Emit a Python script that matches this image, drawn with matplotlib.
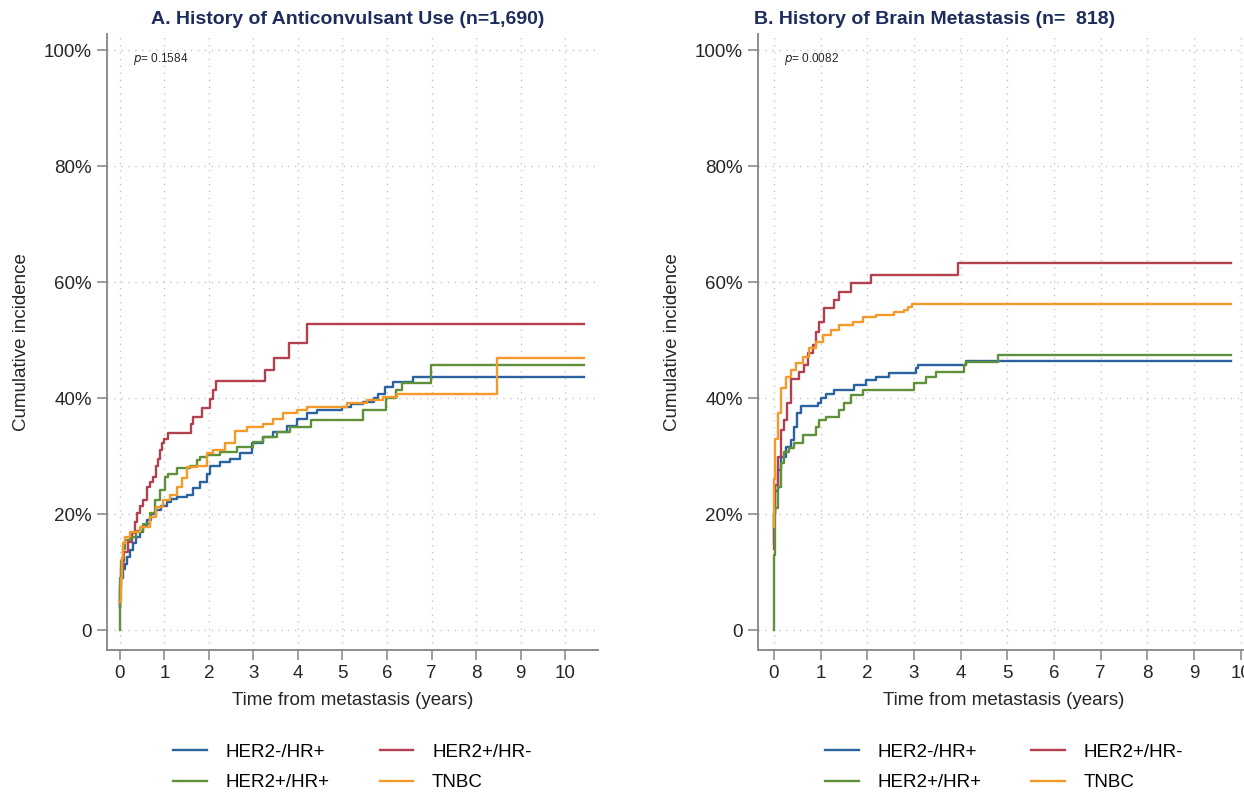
import matplotlib
matplotlib.use("Agg")
import matplotlib.pyplot as plt

plt.rcParams["font.family"] = ["Liberation Sans", "DejaVu Sans"]

groups = ["HER2-/HR+", "HER2+/HR-", "HER2+/HR+", "TNBC"]
colors = ["#2b62a0", "#b3404f", "#5f903a", "#f39a2b"]

# Panel A: anticonvulsant use, time (years) and cumulative incidence (%)
a_blue_t = [0, 0.01, 0.03, 0.06, 0.11, 0.16, 0.22, 0.3, 0.37, 0.45, 0.52, 0.6, 0.7, 0.82,
            0.93, 1.05, 1.15, 1.28, 1.5, 1.65, 1.8, 1.95, 2.02, 2.25, 2.47, 2.7, 2.97, 3.22,
            3.44, 3.75, 3.97, 4.2, 4.42, 5.0, 5.2, 5.47, 5.7, 5.8, 5.96, 6.13, 6.58, 10.43]
a_blue_y = [4, 7, 9, 10.5, 11.5, 12.6, 13.8, 15, 16, 17, 18, 19, 20, 20.7,
            21.4, 22.1, 22.6, 23, 23.4, 24.5, 25.6, 27, 28.4, 29, 29.6, 30.6, 32.2, 33.3,
            34.2, 35.3, 36.5, 37.4, 37.9, 38.5, 39, 39.3, 40, 40.8, 41.9, 42.8, 43.6, 43.6]
a_red_t = [0, 0.01, 0.03, 0.06, 0.1, 0.18, 0.27, 0.34, 0.39, 0.45, 0.52, 0.6, 0.67, 0.75,
           0.82, 0.86, 0.9, 0.94, 1.0, 1.08, 1.6, 1.65, 1.84, 2.02, 2.1, 2.17, 3.26, 3.46,
           3.8, 4.2, 10.43]
a_red_y = [4, 8, 10.5, 12, 13.5, 15.2, 16.7, 18.6, 20.2, 21.4, 22.4, 24.7, 25.5, 26.4,
           28.4, 29.6, 31, 32.2, 33, 34, 35.5, 36.7, 38.3, 39.8, 41.5, 42.9, 44.8, 47,
           49.6, 52.8, 52.8]
a_green_t = [0, 0.01, 0.03, 0.06, 0.11, 0.22, 0.37, 0.52, 0.67, 0.79, 0.9, 1.01, 1.08, 1.28,
             1.57, 1.73, 1.8, 1.95, 2.25, 2.63, 3.0, 3.22, 3.52, 3.82, 4.3, 5.47, 5.98, 6.2,
             6.33, 6.99, 10.43]
a_green_y = [0, 9, 12, 14, 15.5, 16, 17.2, 18.4, 20.2, 22.4, 24.1, 26.4, 27, 27.9,
             28.4, 29.3, 29.8, 30.2, 30.7, 31.6, 32.4, 33.3, 34.1, 35, 36.2, 37.9, 40, 41.4,
             42.6, 45.7, 45.7]
a_orange_t = [0, 0.02, 0.05, 0.07, 0.12, 0.22, 0.45, 0.67, 0.82, 0.97, 1.12, 1.28, 1.39, 1.5,
              1.73, 1.95, 2.1, 2.36, 2.58, 2.85, 3.22, 3.44, 3.67, 3.97, 4.2, 5.1, 5.55, 5.92,
              6.22, 8.47, 10.43]
a_orange_y = [4.8, 9, 12.5, 15, 16, 16.9, 17.8, 19.5, 21.2, 22.4, 23.3, 24.7, 26.2, 28.1,
              28.4, 30.5, 31, 32.2, 34.3, 35, 35.6, 36.5, 37.4, 37.9, 38.5, 39.1, 39.7, 40.2,
              40.7, 46.9, 46.9]

# Panel B: brain metastasis
b_blue_t = [0, 0.01, 0.03, 0.08, 0.15, 0.26, 0.36, 0.43, 0.5, 0.58, 0.94, 1.0, 1.11, 1.28,
            1.71, 1.97, 2.18, 2.46, 3.04, 3.08, 4.11, 9.8]
b_blue_y = [15, 20, 24, 27.6, 29.8, 31.6, 32.8, 35, 37.4, 38.6, 39.1, 40, 40.7, 41.4,
            42.2, 43.1, 43.6, 44.4, 45.3, 45.8, 46.4, 46.4]
b_red_t = [0, 0.01, 0.03, 0.09, 0.15, 0.21, 0.28, 0.36, 0.54, 0.64, 0.73, 0.84, 0.9, 0.96,
           1.07, 1.28, 1.39, 1.65, 2.08, 3.94, 9.8]
b_red_y = [14, 20, 25, 29.8, 34.5, 36.2, 39.1, 43.4, 44.5, 45.7, 47.8, 49.1, 51.4, 53.1,
           55.5, 56.9, 58.3, 59.8, 61.3, 63.4, 63.4]
b_green_t = [0, 0.01, 0.03, 0.08, 0.15, 0.21, 0.32, 0.43, 0.62, 0.9, 0.96, 1.11, 1.39, 1.5,
             1.65, 1.9, 3.0, 3.26, 3.47, 4.07, 4.11, 4.8, 9.8]
b_green_y = [0, 13, 21, 24.7, 28.8, 30.7, 31.4, 32.2, 33.6, 35, 36.2, 36.7, 37.9, 39.1,
             40.5, 41.4, 42.6, 43.6, 44.5, 45.7, 46.2, 47.4, 47.4]
b_orange_t = [0, 0.01, 0.02, 0.08, 0.15, 0.26, 0.36, 0.47, 0.62, 0.75, 0.9, 1.05, 1.22, 1.39,
              1.69, 1.9, 2.18, 2.57, 2.78, 2.87, 2.95, 9.8]
b_orange_y = [17.8, 26, 33, 37.4, 41.7, 43.6, 44.8, 46, 47.1, 48.6, 49.7, 50.9, 51.7, 52.6,
              53.1, 54, 54.3, 54.8, 55.3, 55.7, 56.3, 56.3]

y_ticks = [0, 20, 40, 60, 80, 100]
y_tick_labels = ["0", "20%", "40%", "60%", "80%", "100%"]
x_ticks = list(range(0, 11))

title_color = "#1c2c5c"
axis_color = "#8c8c8c"
text_color = "#262626"
font_size = 13.5


def draw_panel(axis, series, xlim, p_text):
    lines = []
    for (t, y), color in zip(series, colors):
        (line,) = axis.plot(t, y, drawstyle="steps-post", color=color, linewidth=1.7)
        lines.append(line)

    axis.set_xlim(*xlim)
    axis.set_ylim(-3.4, 102.8)
    axis.set_xticks(x_ticks)
    axis.set_yticks(y_ticks)
    axis.set_yticklabels(y_tick_labels)
    axis.grid(True, color="#c4c4c4", linestyle=(0, (1, 4)), linewidth=1.0)
    axis.set_axisbelow(True)

    for side in ["top", "right"]:
        axis.spines[side].set_visible(False)
    for side in ["left", "bottom"]:
        axis.spines[side].set_color(axis_color)
        axis.spines[side].set_linewidth(1.4)
    axis.tick_params(axis="both", direction="out", length=7, width=1.2,
                     color=axis_color, labelcolor=text_color, labelsize=font_size, pad=4)

    axis.set_xlabel("Time from metastasis (years)", fontsize=font_size, color=text_color,
                    labelpad=7)
    axis.set_ylabel("Cumulative incidence", fontsize=font_size, color=text_color,
                    labelpad=10)

    axis.text(0.053, 0.959, "$p$= " + p_text, transform=axis.transAxes, fontsize=8.5,
              color=text_color, ha="left", va="center")

    # legend order: column 1 HER2-/HR+, HER2+/HR+; column 2 HER2+/HR-, TNBC
    order = [0, 2, 1, 3]
    axis.legend([lines[i] for i in order], [groups[i] for i in order], ncol=2,
                loc="upper center", bbox_to_anchor=(0.5, -0.14), frameon=False,
                fontsize=font_size, handlelength=1.8, handletextpad=1.0,
                columnspacing=2.65, labelspacing=0.72, borderaxespad=0.0)


figure = plt.figure(figsize=(12.44, 7.92), dpi=100)
ax_a = figure.add_axes([0.0860, 0.1793, 0.3947, 0.7778])
ax_b = figure.add_axes([0.6093, 0.1793, 0.3955, 0.7778])

draw_panel(ax_a, [(a_blue_t, a_blue_y), (a_red_t, a_red_y), (a_green_t, a_green_y),
                  (a_orange_t, a_orange_y)], (-0.29, 10.74), "0.1584")
draw_panel(ax_b, [(b_blue_t, b_blue_y), (b_red_t, b_red_y), (b_green_t, b_green_y),
                  (b_orange_t, b_orange_y)], (-0.34, 10.2), "0.0082")

figure.text(348 / 1244, 1 - 19 / 792, "A. History of Anticonvulsant Use (n=1,690)",
            ha="center", va="center", fontsize=14, fontweight="bold", color=title_color)
figure.text(935 / 1244, 1 - 19 / 792, "B. History of Brain Metastasis (n=  818)",
            ha="center", va="center", fontsize=14, fontweight="bold", color=title_color)

figure.savefig("out.png", dpi=100)
